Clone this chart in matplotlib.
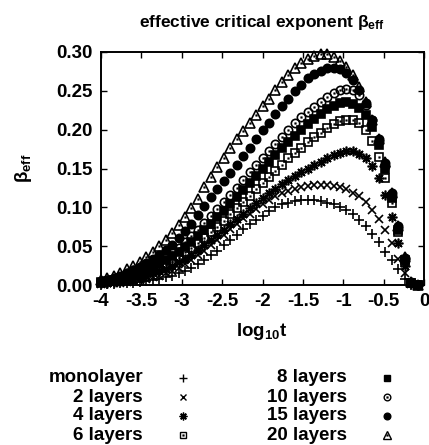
import matplotlib
matplotlib.use("Agg")
import matplotlib.pyplot as plt
from matplotlib.lines import Line2D

plt.rcParams['font.family'] = ['Liberation Sans', 'DejaVu Sans']
plt.rcParams['font.weight'] = 'bold'
plt.rcParams['mathtext.fontset'] = 'custom'
plt.rcParams['mathtext.rm'] = 'Liberation Sans:bold'
plt.rcParams['mathtext.it'] = 'Liberation Sans:bold'
plt.rcParams['mathtext.bf'] = 'Liberation Sans:bold'
plt.rcParams['axes.unicode_minus'] = False

# log10 t sampling
log_t = [-4.00, -3.92, -3.84, -3.76, -3.68, -3.60, -3.52, -3.44, -3.36, -3.28,
         -3.20, -3.12, -3.04, -2.96, -2.88, -2.80, -2.72, -2.64, -2.56, -2.48,
         -2.40, -2.32, -2.24, -2.16, -2.08, -2.00, -1.92, -1.84, -1.76, -1.68,
         -1.60, -1.52, -1.44, -1.36, -1.28, -1.20, -1.12, -1.04, -0.96, -0.88,
         -0.80, -0.72, -0.64, -0.56, -0.48, -0.40, -0.32, -0.24, -0.16, -0.08]

beta_1 = [0.0005, 0.001, 0.001, 0.002, 0.002, 0.003, 0.004, 0.005, 0.006, 0.008,
          0.010, 0.012, 0.015, 0.018, 0.022, 0.027, 0.032, 0.038, 0.044, 0.051,
          0.058, 0.065, 0.072, 0.078, 0.084, 0.089, 0.095, 0.100, 0.104, 0.106,
          0.108, 0.109, 0.109, 0.109, 0.108, 0.106, 0.104, 0.101, 0.097, 0.091,
          0.084, 0.076, 0.066, 0.055, 0.043, 0.032, 0.020, 0.008, 0.000, 0.000]
beta_2 = [0.001, 0.002, 0.002, 0.003, 0.004, 0.005, 0.006, 0.008, 0.010, 0.012,
          0.015, 0.018, 0.022, 0.027, 0.032, 0.038, 0.044, 0.051, 0.058, 0.065,
          0.072, 0.079, 0.086, 0.092, 0.098, 0.104, 0.109, 0.114, 0.118, 0.121,
          0.124, 0.126, 0.128, 0.129, 0.129, 0.129, 0.128, 0.126, 0.123, 0.119,
          0.114, 0.107, 0.097, 0.085, 0.071, 0.054, 0.034, 0.015, 0.001, 0.000]
beta_4 = [0.002, 0.003, 0.004, 0.005, 0.007, 0.008, 0.010, 0.012, 0.015, 0.018,
          0.021, 0.025, 0.029, 0.034, 0.039, 0.045, 0.051, 0.058, 0.064, 0.071,
          0.078, 0.085, 0.092, 0.099, 0.106, 0.112, 0.118, 0.124, 0.130, 0.135,
          0.140, 0.145, 0.150, 0.155, 0.159, 0.163, 0.167, 0.170, 0.172, 0.172,
          0.169, 0.163, 0.153, 0.138, 0.116, 0.088, 0.054, 0.024, 0.002, 0.000]
beta_6 = [0.003, 0.004, 0.006, 0.007, 0.009, 0.011, 0.013, 0.016, 0.019, 0.023,
          0.027, 0.031, 0.036, 0.042, 0.048, 0.054, 0.061, 0.068, 0.075, 0.083,
          0.091, 0.099, 0.107, 0.115, 0.123, 0.131, 0.139, 0.147, 0.155, 0.163,
          0.170, 0.177, 0.184, 0.190, 0.196, 0.202, 0.207, 0.211, 0.213, 0.212,
          0.208, 0.200, 0.186, 0.165, 0.138, 0.105, 0.068, 0.029, 0.002, 0.000]
beta_8 = [0.004, 0.005, 0.007, 0.009, 0.011, 0.013, 0.016, 0.019, 0.023, 0.027,
          0.032, 0.037, 0.043, 0.049, 0.056, 0.063, 0.071, 0.079, 0.087, 0.095,
          0.104, 0.113, 0.122, 0.131, 0.140, 0.149, 0.158, 0.167, 0.176, 0.184,
          0.192, 0.200, 0.207, 0.214, 0.220, 0.226, 0.231, 0.234, 0.235, 0.233,
          0.228, 0.219, 0.203, 0.180, 0.150, 0.112, 0.071, 0.032, 0.003, 0.000]
beta_10 = [0.004, 0.006, 0.008, 0.010, 0.012, 0.015, 0.018, 0.022, 0.026, 0.031,
           0.036, 0.042, 0.048, 0.055, 0.063, 0.071, 0.080, 0.089, 0.098, 0.107,
           0.116, 0.125, 0.135, 0.145, 0.155, 0.164, 0.173, 0.182, 0.191, 0.200,
           0.208, 0.216, 0.223, 0.229, 0.236, 0.242, 0.247, 0.251, 0.253, 0.251,
           0.244, 0.232, 0.213, 0.186, 0.153, 0.115, 0.073, 0.033, 0.003, 0.000]
beta_15 = [0.005, 0.007, 0.009, 0.012, 0.015, 0.019, 0.023, 0.028, 0.033, 0.039,
           0.045, 0.052, 0.060, 0.069, 0.079, 0.090, 0.102, 0.113, 0.123, 0.134,
           0.144, 0.155, 0.166, 0.177, 0.188, 0.199, 0.209, 0.220, 0.231, 0.240,
           0.250, 0.258, 0.266, 0.272, 0.276, 0.279, 0.280, 0.278, 0.273, 0.264,
           0.251, 0.234, 0.213, 0.188, 0.157, 0.118, 0.076, 0.035, 0.004, 0.000]
beta_20 = [0.007, 0.009, 0.012, 0.016, 0.020, 0.025, 0.030, 0.036, 0.043, 0.050,
           0.058, 0.067, 0.077, 0.088, 0.099, 0.111, 0.126, 0.139, 0.152, 0.164,
           0.176, 0.188, 0.198, 0.209, 0.219, 0.230, 0.240, 0.251, 0.261, 0.270,
           0.279, 0.286, 0.291, 0.295, 0.297, 0.297, 0.294, 0.289, 0.281, 0.270,
           0.255, 0.236, 0.213, 0.188, 0.158, 0.118, 0.076, 0.036, 0.004, 0.000]

labels = ['monolayer', '2 layers', '4 layers', '6 layers',
          '8 layers', '10 layers', '15 layers', '20 layers']
series = [beta_1, beta_2, beta_4, beta_6, beta_8, beta_10, beta_15, beta_20]

# marker, filled, dot in centre, size
styles = [('+', True, False, 7), ('x', True, False, 6), ((8, 2, 0), True, False, 7),
          ('s', False, True, 6), ('s', True, False, 6), ('o', False, True, 6),
          ('o', True, False, 6), ('^', False, True, 6.5)]

fig = plt.figure(figsize=(4.29, 4.45), dpi=100)
ax = fig.add_axes([101 / 429, 1 - 285 / 445, 323 / 429, 233 / 445])

for y, (m, filled, dot, ms) in zip(series, styles):
    fc = 'black' if filled else 'none'
    ax.plot(log_t, y, linestyle='none', marker=m, ms=ms, mec='black', mfc=fc,
            mew=1.2, clip_on=False)
    if dot:
        ax.plot(log_t, y, linestyle='none', marker='s', ms=1.2, mec='black',
                mfc='black', mew=0.3, clip_on=False)

ax.set_xlim(-4, 0)
ax.set_ylim(0, 0.30)
ax.set_xticks([-4, -3.5, -3, -2.5, -2, -1.5, -1, -0.5, 0])
ax.set_xticklabels(['-4', '-3.5', '-3', '-2.5', '-2', '-1.5', '-1', '-0.5', '0'])
ax.set_yticks([0, 0.05, 0.10, 0.15, 0.20, 0.25, 0.30])
ax.set_yticklabels(['0.00', '0.05', '0.10', '0.15', '0.20', '0.25', '0.30'])
ax.tick_params(direction='in', top=True, right=True, length=4, width=1,
               labelsize=13.5, pad=6)
for s in ax.spines.values():
    s.set_linewidth(1.4)

fig.text(262 / 429, 1 - 23 / 445, r'effective critical exponent β$_{eff}$',
         ha='center', va='center', fontsize=12.5)
fig.text(262 / 429, 1 - 332 / 445, r'log$_{10}$t', ha='center', va='center',
         fontsize=13.5)
fig.text(23 / 429, 1 - 168 / 445, r'β$_{eff}$', ha='center', va='center',
         fontsize=13.5, rotation=90)

# key, two columns, labels right aligned, marker to the right
rows = [378, 397, 416, 435]
cols = [(143, 183), (347, 387)]
for i, (lab, (m, filled, dot, ms)) in enumerate(zip(labels, styles)):
    tx, mx = cols[i // 4]
    ty = 1 - rows[i % 4] / 445
    fig.text(tx / 429, ty, lab, ha='right', va='center', fontsize=13.5)
    fc = 'black' if filled else 'none'
    fig.add_artist(Line2D([mx / 429], [ty], transform=fig.transFigure,
                          linestyle='none', marker=m, ms=ms * 0.8, mec='black',
                          mfc=fc, mew=1.0))
    if dot:
        fig.add_artist(Line2D([mx / 429], [ty], transform=fig.transFigure,
                              linestyle='none', marker='s', ms=1.2, mec='black',
                              mfc='black', mew=0.3))

fig.savefig('out.png', dpi=100)
